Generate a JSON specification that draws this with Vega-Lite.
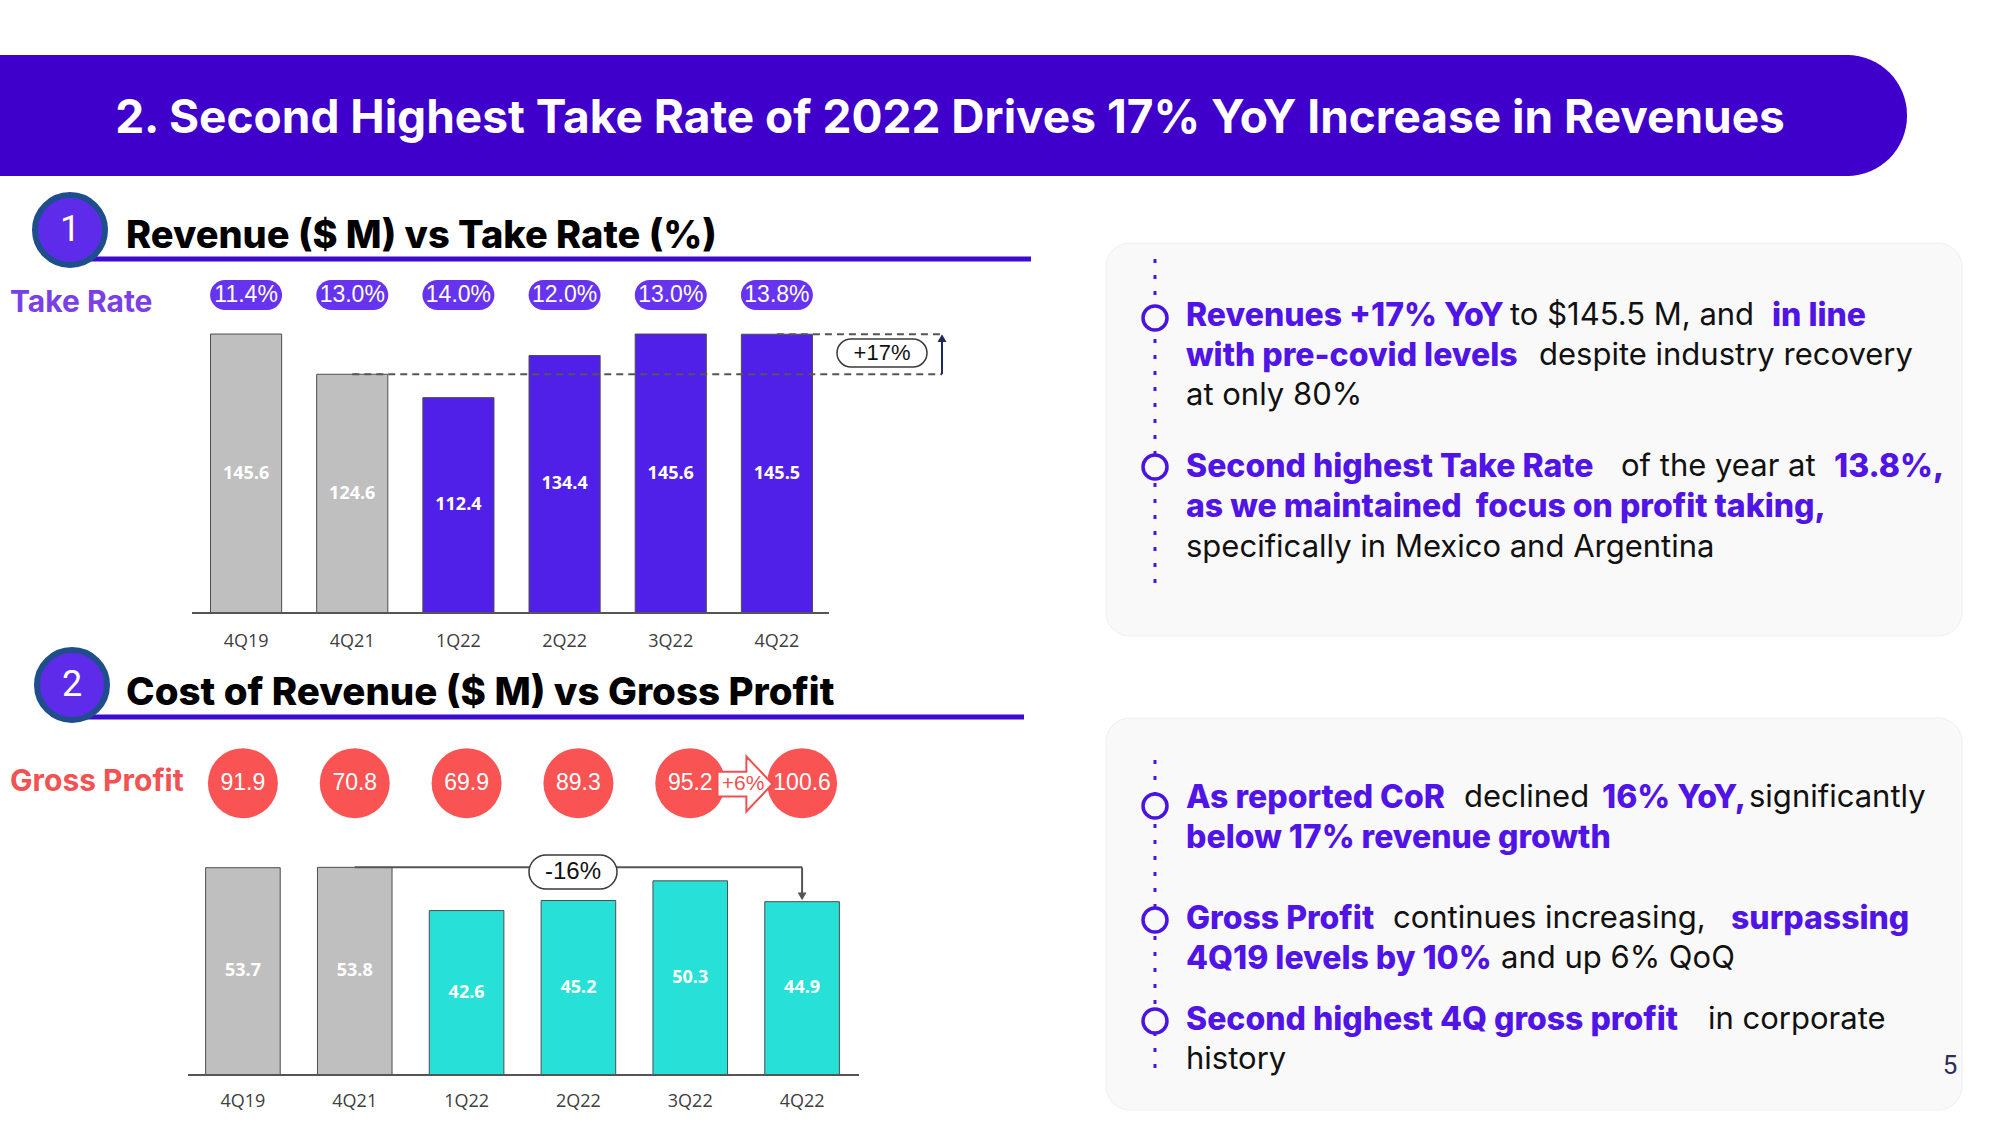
{
"$schema":"https://vega.github.io/schema/vega-lite/v6.json",
"width":2000,"height":1125,"padding":0,"autosize":{"type":"none"},
"background":"#ffffff",
"config":{"view":{"stroke":null},"text":{"baseline":"middle","font":"Inter"}},
"data":{"values":[{}]},
"datasets":{
 "revenue":[
  {"quarter":"4Q19","revenue":145.6,"take_rate":"11.4%","period":"Pre-2022"},
  {"quarter":"4Q21","revenue":124.6,"take_rate":"13.0%","period":"Pre-2022"},
  {"quarter":"1Q22","revenue":112.4,"take_rate":"14.0%","period":"2022"},
  {"quarter":"2Q22","revenue":134.4,"take_rate":"12.0%","period":"2022"},
  {"quarter":"3Q22","revenue":145.6,"take_rate":"13.0%","period":"2022"},
  {"quarter":"4Q22","revenue":145.5,"take_rate":"13.8%","period":"2022"}],
 "cost":[
  {"quarter":"4Q19","cost_of_revenue":53.7,"gross_profit":91.9,"period":"Pre-2022"},
  {"quarter":"4Q21","cost_of_revenue":53.8,"gross_profit":70.8,"period":"Pre-2022"},
  {"quarter":"1Q22","cost_of_revenue":42.6,"gross_profit":69.9,"period":"2022"},
  {"quarter":"2Q22","cost_of_revenue":45.2,"gross_profit":89.3,"period":"2022"},
  {"quarter":"3Q22","cost_of_revenue":50.3,"gross_profit":95.2,"period":"2022"},
  {"quarter":"4Q22","cost_of_revenue":44.9,"gross_profit":100.6,"period":"2022"}]
},
"resolve":{"scale":{"x":"independent","y":"independent","color":"independent"}},
"layer":[
 {"mark":{"type":"rect","x":1106,"x2":1962,"y":243,"y2":636,"cornerRadius":24,"fill":"#F9F9F9","stroke":"#EFEFEF"}},
 {"mark":{"type":"rect","x":1106,"x2":1962,"y":718,"y2":1110,"cornerRadius":24,"fill":"#F9F9F9","stroke":"#EFEFEF"}},
 {"mark":{"type":"rect","x":0,"x2":1850,"y":55,"y2":176,"fill":"#4000CC"}},
 {"mark":{"type":"rect","x":1760,"x2":1907,"y":55,"y2":176,"cornerRadius":60,"fill":"#4000CC"}},
 {"mark":{"type":"text","x":950,"y":119,"align":"center","text":"2. Second Highest Take Rate of 2022 Drives 17% YoY Increase in Revenues","fontSize":46,"fontWeight":"bold","color":"#ffffff"}},

 {"mark":{"type":"rule","color":"#3D0ACF","strokeWidth":5},"encoding":{"x":{"value":86},"x2":{"value":1031},"y":{"value":259}}},
 {"mark":{"type":"point","shape":"circle","size":4900,"filled":true,"fill":"#5E2BEB","stroke":"#1F4E8C","strokeWidth":6,"opacity":1},"encoding":{"x":{"value":70},"y":{"value":230}}},
 {"mark":{"type":"text","x":70,"y":230,"align":"center","font":"Roboto","text":"1","fontSize":36,"color":"#ffffff"}},
 {"mark":{"type":"text","x":126,"y":237,"align":"left","text":"Revenue ($ M)  vs Take Rate (%)","fontSize":38,"fontWeight":800,"color":"#000000"}},
 {"mark":{"type":"text","x":10,"y":303,"align":"left","text":"Take Rate","fontSize":30,"fontWeight":"bold","color":"#7A40E6"}},

 {"mark":{"type":"rule","color":"#3D0ACF","strokeWidth":5},"encoding":{"x":{"value":86},"x2":{"value":1024},"y":{"value":717}}},
 {"mark":{"type":"point","shape":"circle","size":4900,"filled":true,"fill":"#5E2BEB","stroke":"#1F4E8C","strokeWidth":6,"opacity":1},"encoding":{"x":{"value":72},"y":{"value":685}}},
 {"mark":{"type":"text","x":72,"y":685,"align":"center","font":"Roboto","text":"2","fontSize":36,"color":"#ffffff"}},
 {"mark":{"type":"text","x":126,"y":693,"align":"left","text":"Cost of Revenue ($ M) vs Gross Profit","fontSize":38.5,"fontWeight":800,"color":"#000000"}},
 {"mark":{"type":"text","x":10,"y":782,"align":"left","text":"Gross Profit","fontSize":30,"fontWeight":"bold","color":"#F25252"}},

 {"data":{"name":"revenue"},"mark":{"type":"bar","stroke":"#4d4d4d","strokeWidth":1},
  "encoding":{
   "x":{"field":"quarter","type":"nominal","sort":null,"axis":null,"scale":{"type":"band","domain":["4Q19","4Q21","1Q22","2Q22","3Q22","4Q22"],"range":[193,830],"paddingInner":0.33,"paddingOuter":0.165}},
   "y":{"field":"revenue","type":"quantitative","axis":null,"scale":{"domain":[0,150],"range":[613,325.6],"nice":false}},
   "color":{"field":"period","type":"nominal","legend":null,"scale":{"domain":["Pre-2022","2022"],"range":["#BFBFBF","#5120E8"]}}}},
 {"mark":{"type":"rule","color":"#555555","strokeWidth":2},
  "encoding":{"x":{"value":192},"x2":{"value":829},"y":{"datum":0,"type":"quantitative","axis":null,"scale":{"domain":[0,150],"range":[613,325.6],"nice":false}}}},
 {"data":{"name":"revenue"},"mark":{"type":"text","align":"center","font":"Open Sans","fontSize":18,"fontWeight":"bold","color":"#ffffff"},
  "encoding":{
   "x":{"field":"quarter","type":"nominal","sort":null,"axis":null,"scale":{"type":"band","domain":["4Q19","4Q21","1Q22","2Q22","3Q22","4Q22"],"range":[193,830],"paddingInner":0.33,"paddingOuter":0.165}},
   "y":{"field":"revenue","type":"quantitative","axis":null,"scale":{"domain":[0,150],"range":[613,469.3],"nice":false}},
   "text":{"field":"revenue","type":"quantitative","format":".1f"}}},
 {"data":{"name":"revenue"},"mark":{"type":"text","align":"center","font":"Open Sans","fontSize":18,"color":"#404040","dy":29},
  "encoding":{
   "x":{"field":"quarter","type":"nominal","sort":null,"axis":null,"scale":{"type":"band","domain":["4Q19","4Q21","1Q22","2Q22","3Q22","4Q22"],"range":[193,830],"paddingInner":0.33,"paddingOuter":0.165}},
   "y":{"datum":0,"type":"quantitative","axis":null,"scale":{"domain":[0,150],"range":[613,325.6],"nice":false}},
   "text":{"field":"quarter","type":"nominal"}}},
 {"data":{"name":"revenue"},"mark":{"type":"bar","width":72,"cornerRadius":15,"color":"#6633EE"},
  "encoding":{
   "x":{"field":"quarter","type":"nominal","sort":null,"axis":null,"scale":{"type":"band","domain":["4Q19","4Q21","1Q22","2Q22","3Q22","4Q22"],"range":[193,830],"paddingInner":0.33,"paddingOuter":0.165}},
   "y":{"datum":158.2,"type":"quantitative","axis":null,"scale":{"domain":[0,150],"range":[613,325.6],"nice":false}},
   "y2":{"datum":173.8}}},
 {"data":{"name":"revenue"},"mark":{"type":"text","align":"center","font":"Liberation Sans","fontSize":23,"color":"#ffffff"},
  "encoding":{
   "x":{"field":"quarter","type":"nominal","sort":null,"axis":null,"scale":{"type":"band","domain":["4Q19","4Q21","1Q22","2Q22","3Q22","4Q22"],"range":[193,830],"paddingInner":0.33,"paddingOuter":0.165}},
   "y":{"datum":166,"type":"quantitative","axis":null,"scale":{"domain":[0,150],"range":[613,325.6],"nice":false}},
   "text":{"field":"take_rate","type":"nominal"}}},
 {"mark":{"type":"rule","color":"#555555","strokeWidth":2,"strokeDash":[7,5]},
  "encoding":{
   "x":{"datum":"4Q21","type":"nominal","axis":null,"scale":{"type":"band","domain":["4Q19","4Q21","1Q22","2Q22","3Q22","4Q22"],"range":[193,830],"paddingInner":0.33,"paddingOuter":0.165}},
   "x2":{"value":942},
   "y":{"datum":124.6,"type":"quantitative","axis":null,"scale":{"domain":[0,150],"range":[613,325.6],"nice":false}}}},
 {"mark":{"type":"rule","color":"#555555","strokeWidth":2,"strokeDash":[7,5]},
  "encoding":{
   "x":{"datum":"4Q22","type":"nominal","axis":null,"scale":{"type":"band","domain":["4Q19","4Q21","1Q22","2Q22","3Q22","4Q22"],"range":[193,830],"paddingInner":0.33,"paddingOuter":0.165}},
   "x2":{"value":942},
   "y":{"datum":145.5,"type":"quantitative","axis":null,"scale":{"domain":[0,150],"range":[613,325.6],"nice":false}}}},
 {"mark":{"type":"rule","color":"#1F2A5A","strokeWidth":2},
  "encoding":{
   "x":{"value":942},
   "y":{"datum":124.6,"type":"quantitative","axis":null,"scale":{"domain":[0,150],"range":[613,325.6],"nice":false}},
   "y2":{"datum":144}}},
 {"mark":{"type":"point","shape":"triangle-up","size":80,"filled":true,"color":"#1F2A5A","opacity":1},
  "encoding":{
   "x":{"value":942},
   "y":{"datum":143.5,"type":"quantitative","axis":null,"scale":{"domain":[0,150],"range":[613,325.6],"nice":false}}}},
 {"mark":{"type":"rect","x":837,"x2":927,"y":339,"y2":367,"cornerRadius":14,"fill":"#ffffff","stroke":"#3a3a3a","strokeWidth":1.5}},
 {"mark":{"type":"text","x":882,"y":353,"align":"center","font":"Liberation Sans","text":"+17%","fontSize":22,"color":"#111111"}},

 {"data":{"name":"cost"},"mark":{"type":"bar","stroke":"#4d4d4d","strokeWidth":1},
  "encoding":{
   "x":{"field":"quarter","type":"nominal","sort":null,"axis":null,"scale":{"type":"band","domain":["4Q19","4Q21","1Q22","2Q22","3Q22","4Q22"],"range":[187,858],"paddingInner":0.333,"paddingOuter":0.1665}},
   "y":{"field":"cost_of_revenue","type":"quantitative","axis":null,"scale":{"domain":[0,60],"range":[1075,843.4],"nice":false}},
   "color":{"field":"period","type":"nominal","legend":null,"scale":{"domain":["Pre-2022","2022"],"range":["#BFBFBF","#27E1D8"]}}}},
 {"mark":{"type":"rule","color":"#555555","strokeWidth":2},
  "encoding":{"x":{"value":188},"x2":{"value":859},"y":{"datum":0,"type":"quantitative","axis":null,"scale":{"domain":[0,60],"range":[1075,843.4],"nice":false}}}},
 {"data":{"name":"cost"},"mark":{"type":"text","align":"center","font":"Open Sans","fontSize":18,"fontWeight":"bold","color":"#ffffff"},
  "encoding":{
   "x":{"field":"quarter","type":"nominal","sort":null,"axis":null,"scale":{"type":"band","domain":["4Q19","4Q21","1Q22","2Q22","3Q22","4Q22"],"range":[187,858],"paddingInner":0.333,"paddingOuter":0.1665}},
   "y":{"field":"cost_of_revenue","type":"quantitative","axis":null,"scale":{"domain":[0,60],"range":[1075,959.2],"nice":false}},
   "text":{"field":"cost_of_revenue","type":"quantitative","format":".1f"}}},
 {"data":{"name":"cost"},"mark":{"type":"text","align":"center","font":"Open Sans","fontSize":18,"color":"#404040","dy":27},
  "encoding":{
   "x":{"field":"quarter","type":"nominal","sort":null,"axis":null,"scale":{"type":"band","domain":["4Q19","4Q21","1Q22","2Q22","3Q22","4Q22"],"range":[187,858],"paddingInner":0.333,"paddingOuter":0.1665}},
   "y":{"datum":0,"type":"quantitative","axis":null,"scale":{"domain":[0,60],"range":[1075,843.4],"nice":false}},
   "text":{"field":"quarter","type":"nominal"}}},
 {"data":{"name":"cost"},"mark":{"type":"point","shape":"circle","size":4900,"filled":true,"color":"#F95353","opacity":1},
  "encoding":{
   "x":{"field":"quarter","type":"nominal","sort":null,"axis":null,"scale":{"type":"band","domain":["4Q19","4Q21","1Q22","2Q22","3Q22","4Q22"],"range":[187,858],"paddingInner":0.333,"paddingOuter":0.1665}},
   "y":{"datum":75.6,"type":"quantitative","axis":null,"scale":{"domain":[0,60],"range":[1075,843.4],"nice":false}}}},
 {"mark":{"type":"point","shape":"M -1 -0.45 L 0.05 -0.45 L 0.05 -1 L 1 0 L 0.05 1 L 0.05 0.45 L -1 0.45 Z","size":3025,"filled":true,"fill":"#ffffff","stroke":"#F05050","strokeWidth":2,"opacity":1},"encoding":{"x":{"value":745},"y":{"value":784}}},
 {"mark":{"type":"text","x":743,"y":784,"align":"center","font":"Liberation Sans","text":"+6%","fontSize":21,"color":"#F05050"}},
 {"data":{"name":"cost"},"mark":{"type":"text","align":"center","font":"Liberation Sans","fontSize":23,"color":"#ffffff"},
  "encoding":{
   "x":{"field":"quarter","type":"nominal","sort":null,"axis":null,"scale":{"type":"band","domain":["4Q19","4Q21","1Q22","2Q22","3Q22","4Q22"],"range":[187,858],"paddingInner":0.333,"paddingOuter":0.1665}},
   "y":{"datum":75.6,"type":"quantitative","axis":null,"scale":{"domain":[0,60],"range":[1075,843.4],"nice":false}},
   "text":{"field":"gross_profit","type":"quantitative","format":".1f"}}},
 {"mark":{"type":"rule","color":"#555555","strokeWidth":2},
  "encoding":{
   "x":{"datum":"4Q21","type":"nominal","axis":null,"scale":{"type":"band","domain":["4Q19","4Q21","1Q22","2Q22","3Q22","4Q22"],"range":[187,858],"paddingInner":0.333,"paddingOuter":0.1665}},
   "x2":{"datum":"4Q22"},
   "y":{"datum":53.8,"type":"quantitative","axis":null,"scale":{"domain":[0,60],"range":[1075,843.4],"nice":false}}}},
 {"mark":{"type":"rule","color":"#555555","strokeWidth":2},
  "encoding":{
   "x":{"datum":"4Q22","type":"nominal","axis":null,"scale":{"type":"band","domain":["4Q19","4Q21","1Q22","2Q22","3Q22","4Q22"],"range":[187,858],"paddingInner":0.333,"paddingOuter":0.1665}},
   "y":{"datum":53.8,"type":"quantitative","axis":null,"scale":{"domain":[0,60],"range":[1075,843.4],"nice":false}},
   "y2":{"datum":46}}},
 {"mark":{"type":"point","shape":"triangle-down","size":80,"filled":true,"color":"#555555","opacity":1},
  "encoding":{
   "x":{"datum":"4Q22","type":"nominal","axis":null,"scale":{"type":"band","domain":["4Q19","4Q21","1Q22","2Q22","3Q22","4Q22"],"range":[187,858],"paddingInner":0.333,"paddingOuter":0.1665}},
   "y":{"datum":46.3,"type":"quantitative","axis":null,"scale":{"domain":[0,60],"range":[1075,843.4],"nice":false}}}},
 {"mark":{"type":"rect","x":529,"x2":617,"y":855,"y2":889,"cornerRadius":17,"fill":"#ffffff","stroke":"#3a3a3a","strokeWidth":1.5}},
 {"mark":{"type":"text","x":573,"y":872,"align":"center","font":"Liberation Sans","text":"-16%","fontSize":24,"color":"#111111"}},

 {"mark":{"type":"rule","color":"#4A14E0","strokeWidth":3,"strokeDash":[4,12]},"encoding":{"x":{"value":1155},"y":{"value":259},"y2":{"value":583}}},
 {"mark":{"type":"rule","color":"#4A14E0","strokeWidth":3,"strokeDash":[4,12]},"encoding":{"x":{"value":1155},"y":{"value":760},"y2":{"value":1079}}},
 {"mark":{"type":"point","shape":"circle","size":576,"filled":true,"fill":"#F9F9F9","stroke":"#4A14E0","strokeWidth":3.5,"opacity":1},"encoding":{"x":{"value":1155},"y":{"value":318}}},
 {"mark":{"type":"point","shape":"circle","size":576,"filled":true,"fill":"#F9F9F9","stroke":"#4A14E0","strokeWidth":3.5,"opacity":1},"encoding":{"x":{"value":1155},"y":{"value":467}}},
 {"mark":{"type":"point","shape":"circle","size":576,"filled":true,"fill":"#F9F9F9","stroke":"#4A14E0","strokeWidth":3.5,"opacity":1},"encoding":{"x":{"value":1155},"y":{"value":806}}},
 {"mark":{"type":"point","shape":"circle","size":576,"filled":true,"fill":"#F9F9F9","stroke":"#4A14E0","strokeWidth":3.5,"opacity":1},"encoding":{"x":{"value":1155},"y":{"value":920}}},
 {"mark":{"type":"point","shape":"circle","size":576,"filled":true,"fill":"#F9F9F9","stroke":"#4A14E0","strokeWidth":3.5,"opacity":1},"encoding":{"x":{"value":1155},"y":{"value":1021}}},

 {"mark":{"type":"text","x":1186,"y":316,"align":"left","text":"Revenues +17% YoY","fontSize":32,"fontWeight":800,"color":"#5014E6"}},
 {"mark":{"type":"text","x":1510,"y":316,"align":"left","text":"to $145.5 M, and","fontSize":31,"color":"#111111"}},
 {"mark":{"type":"text","x":1772,"y":316,"align":"left","text":"in line","fontSize":32,"fontWeight":800,"color":"#5014E6"}},
 {"mark":{"type":"text","x":1186,"y":356,"align":"left","text":"with pre-covid levels","fontSize":32,"fontWeight":800,"color":"#5014E6"}},
 {"mark":{"type":"text","x":1539,"y":356,"align":"left","text":"despite industry recovery","fontSize":31,"color":"#111111"}},
 {"mark":{"type":"text","x":1186,"y":396,"align":"left","text":"at only 80%","fontSize":31,"color":"#111111"}},
 {"mark":{"type":"text","x":1186,"y":467,"align":"left","text":"Second highest Take Rate","fontSize":32,"fontWeight":800,"color":"#5014E6"}},
 {"mark":{"type":"text","x":1621,"y":467,"align":"left","text":"of the year at","fontSize":31,"color":"#111111"}},
 {"mark":{"type":"text","x":1834,"y":467,"align":"left","text":"13.8%,","fontSize":32,"fontWeight":800,"color":"#5014E6"}},
 {"mark":{"type":"text","x":1186,"y":507,"align":"left","text":"as we maintained\u00a0 focus on profit taking,","fontSize":32,"fontWeight":800,"color":"#5014E6"}},
 {"mark":{"type":"text","x":1186,"y":548,"align":"left","text":"specifically in Mexico and Argentina","fontSize":31,"color":"#111111"}},

 {"mark":{"type":"text","x":1186,"y":798,"align":"left","text":"As reported CoR","fontSize":32,"fontWeight":800,"color":"#5014E6"}},
 {"mark":{"type":"text","x":1464,"y":798,"align":"left","text":"declined","fontSize":31,"color":"#111111"}},
 {"mark":{"type":"text","x":1602,"y":798,"align":"left","text":"16% YoY,","fontSize":32,"fontWeight":800,"color":"#5014E6"}},
 {"mark":{"type":"text","x":1749,"y":798,"align":"left","text":"significantly","fontSize":31,"color":"#111111"}},
 {"mark":{"type":"text","x":1186,"y":838,"align":"left","text":"below 17% revenue growth","fontSize":32,"fontWeight":800,"color":"#5014E6"}},
 {"mark":{"type":"text","x":1186,"y":919,"align":"left","text":"Gross Profit","fontSize":32,"fontWeight":800,"color":"#5014E6"}},
 {"mark":{"type":"text","x":1393,"y":919,"align":"left","text":"continues increasing,","fontSize":31,"color":"#111111"}},
 {"mark":{"type":"text","x":1731,"y":919,"align":"left","text":"surpassing","fontSize":32,"fontWeight":800,"color":"#5014E6"}},
 {"mark":{"type":"text","x":1186,"y":959,"align":"left","text":"4Q19 levels by 10%","fontSize":32,"fontWeight":800,"color":"#5014E6"}},
 {"mark":{"type":"text","x":1501,"y":959,"align":"left","text":"and up 6% QoQ","fontSize":31,"color":"#111111"}},
 {"mark":{"type":"text","x":1186,"y":1020,"align":"left","text":"Second highest 4Q gross profit","fontSize":32,"fontWeight":800,"color":"#5014E6"}},
 {"mark":{"type":"text","x":1708,"y":1020,"align":"left","text":"in corporate","fontSize":31,"color":"#111111"}},
 {"mark":{"type":"text","x":1186,"y":1060,"align":"left","text":"history","fontSize":31,"color":"#111111"}},
 {"mark":{"type":"text","x":1950,"y":1066,"align":"center","font":"Roboto","text":"5","fontSize":26,"color":"#2D2D5F"}}
]
}
